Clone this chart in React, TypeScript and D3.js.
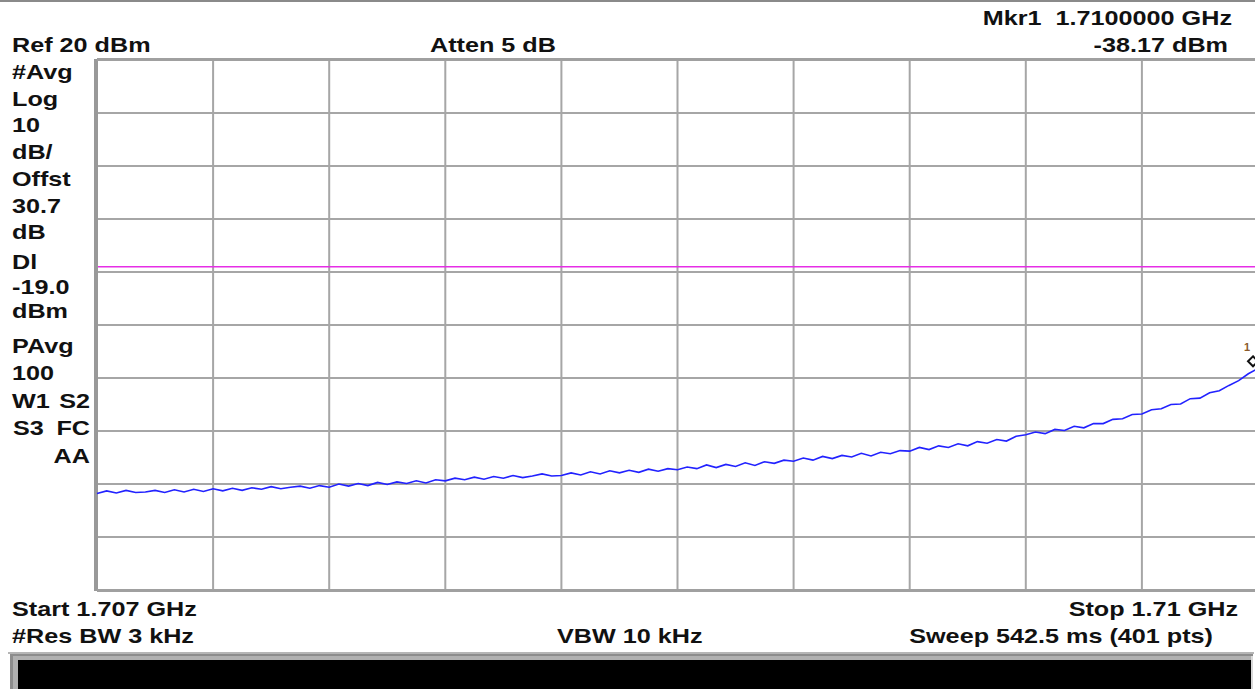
import React from "react";
import * as d3 from "d3";

const traceDbm: number[] = [
  -61.8, -61.3, -61.7, -61.2, -61.6, -61.5, -61.2, -61.6, -61.1, -61.5, -61.0, -61.4,
  -60.9, -61.3, -60.8, -61.2, -60.7, -61.0, -60.5, -60.9, -60.6, -60.4, -60.8, -60.3,
  -60.6, -60.0, -60.4, -59.9, -60.3, -59.7, -60.1, -59.6, -59.9, -59.4, -59.8, -59.2,
  -59.4, -58.9, -59.2, -58.7, -59.1, -58.6, -58.9, -58.4, -58.8, -58.5, -58.1, -58.5,
  -58.4, -57.9, -58.3, -57.7, -58.1, -57.5, -57.9, -57.4, -57.8, -57.2, -57.6, -57.1,
  -57.3, -56.8, -57.1, -56.4, -56.9, -56.3, -56.7, -56.0, -56.5, -55.8, -56.1, -55.5,
  -55.7, -55.1, -55.5, -54.8, -55.2, -54.6, -54.9, -54.2, -54.7, -54.0, -54.3, -53.7,
  -53.8, -53.1, -53.5, -52.8, -53.1, -52.4, -52.8, -52.0, -52.3, -51.6, -51.9, -51.0,
  -50.7, -50.2, -50.5, -49.7, -49.9, -49.1, -49.4, -48.6, -48.6, -47.8, -47.7, -46.9,
  -46.8, -46.0, -45.8, -45.0, -44.9, -43.9, -43.8, -42.8, -42.4, -41.4, -40.5, -39.2,
  -38.2,
];

const startGHz = 1.707;
const stopGHz = 1.71;
const refLevel = 20;
const dbPerDiv = 10;
const displayLine = -19.0;
const markerFreq = 1.71;
const markerDbm = -38.17;

const leftLabels: string[] = ["#Avg", "Log", "10", "dB/", "Offst", "30.7", "dB", "Dl", "-19.0", "dBm", "PAvg", "100"];
const leftLabelBaselines: number[] = [79, 106, 132, 159, 186, 213, 239, 269, 294, 318, 353, 380];

const FONT = "'Liberation Sans', Arial, sans-serif";
const SX = 1.26;

function T({ x, y, anchor = "start", children }: { x: number; y: number; anchor?: string; children: React.ReactNode }) {
  return (
    <text
      transform={`translate(${x},${y}) scale(${SX},1)`}
      textAnchor={anchor as any}
      fontFamily={FONT}
      fontWeight="bold"
      fontSize={20}
      fill="#111"
      style={{ whiteSpace: "pre" }}
    >
      {children}
    </text>
  );
}

export default function App() {
  const W = 1255;
  const H = 689;
  const x0 = 97;
  const x1 = 1258;
  const y0 = 60;
  const y1 = 590;

  const xScale = d3.scaleLinear().domain([startGHz, stopGHz]).range([x0, x1]);
  const yScale = d3.scaleLinear().domain([refLevel - dbPerDiv * 10, refLevel]).range([y1, y0]);
  const n = traceDbm.length;
  const freqs = traceDbm.map((_, i) => startGHz + ((stopGHz - startGHz) * i) / (n - 1));

  const line = d3
    .line<number>()
    .x((_, i) => xScale(freqs[i]))
    .y((d) => yScale(d));

  const vTicks = d3.range(11).map((i) => startGHz + ((stopGHz - startGHz) * i) / 10);
  const hTicks = d3.range(11).map((i) => refLevel - dbPerDiv * i);

  const mx = xScale(markerFreq) - 5;
  const my = yScale(markerDbm);

  return (
    <svg
      width={W}
      height={H}
      style={{ position: "absolute", left: 0, top: 0, background: "#fff" }}
    >
      <rect x={0} y={0} width={W} height={H} fill="#fff" />
      <rect x={0} y={0} width={W} height={2} fill="#8a8a8a" />

      {/* grid */}
      {vTicks.map((f, i) => (
        <line key={"v" + i} x1={xScale(f)} x2={xScale(f)} y1={y0} y2={y1} stroke="#a6a6a6" strokeWidth={2} />
      ))}
      {hTicks.map((v, i) => (
        <line key={"h" + i} x1={x0} x2={x1} y1={yScale(v)} y2={yScale(v)} stroke="#a6a6a6" strokeWidth={2} />
      ))}
      {/* borders */}
      <line x1={x0 - 1} x2={x0 - 1} y1={y0 - 1} y2={y1 + 1} stroke="#999" strokeWidth={4} />
      <line x1={x0} x2={x1} y1={y0 - 0.5} y2={y0 - 0.5} stroke="#a0a0a0" strokeWidth={3} />
      <line x1={x0} x2={x1} y1={y1 + 0.5} y2={y1 + 0.5} stroke="#a0a0a0" strokeWidth={3} />

      {/* display line */}
      <line x1={x0 + 1} x2={x1} y1={yScale(displayLine)} y2={yScale(displayLine)} stroke="#e62ee6" strokeWidth={1.6} />

      {/* trace */}
      <path d={line(traceDbm) || ""} fill="none" stroke="#2222ff" strokeWidth={1.6} strokeLinejoin="miter" />

      {/* marker */}
      <path
        d={`M${mx},${my - 12} L${mx + 5},${my - 7} L${mx},${my - 2} L${mx - 5},${my - 7} Z`}
        fill="none"
        stroke="#111"
        strokeWidth={2}
      />
      <text x={mx - 9} y={my - 17} fontFamily={FONT} fontWeight="bold" fontSize={11} fill="#8a5a2a">1</text>

      {/* header texts */}
      <T x={12} y={52}>Ref 20 dBm</T>
      <T x={430} y={52}>Atten 5 dB</T>
      <T x={1232} y={25} anchor="end">{"Mkr1\u00a0\u00a01.7100000 GHz"}</T>
      <T x={1228} y={52} anchor="end">-38.17 dBm</T>

      {/* left annotations */}
      {leftLabels.map((s, i) => (
        <T key={"l" + i} x={12} y={leftLabelBaselines[i]}>{s}</T>
      ))}
      <T x={12} y={408}>W1</T>
      <T x={90} y={408} anchor="end">S2</T>
      <T x={13} y={435}>S3</T>
      <T x={90} y={435} anchor="end">FC</T>
      <T x={90} y={463} anchor="end">AA</T>

      {/* footer texts */}
      <T x={12} y={616}>Start 1.707 GHz</T>
      <T x={1238} y={616} anchor="end">Stop 1.71 GHz</T>
      <T x={12} y={643}>#Res BW 3 kHz</T>
      <T x={557} y={643}>VBW 10 kHz</T>
      <T x={1213} y={643} anchor="end">Sweep 542.5 ms (401 pts)</T>

      {/* bottom black bar */}
      <rect x={8} y={652} width={1246} height={2} fill="#b5b5b5" />
      <rect x={10} y={654} width={1243} height={35} fill="#8c8c8c" />
      <rect x={13} y={656} width={1238} height={33} fill="#b0b0b0" />
      <rect x={18} y={660} width={1233} height={29} fill="#000" />
      <rect x={1251} y={656} width={2} height={33} fill="#d8d8d8" />
    </svg>
  );
}
